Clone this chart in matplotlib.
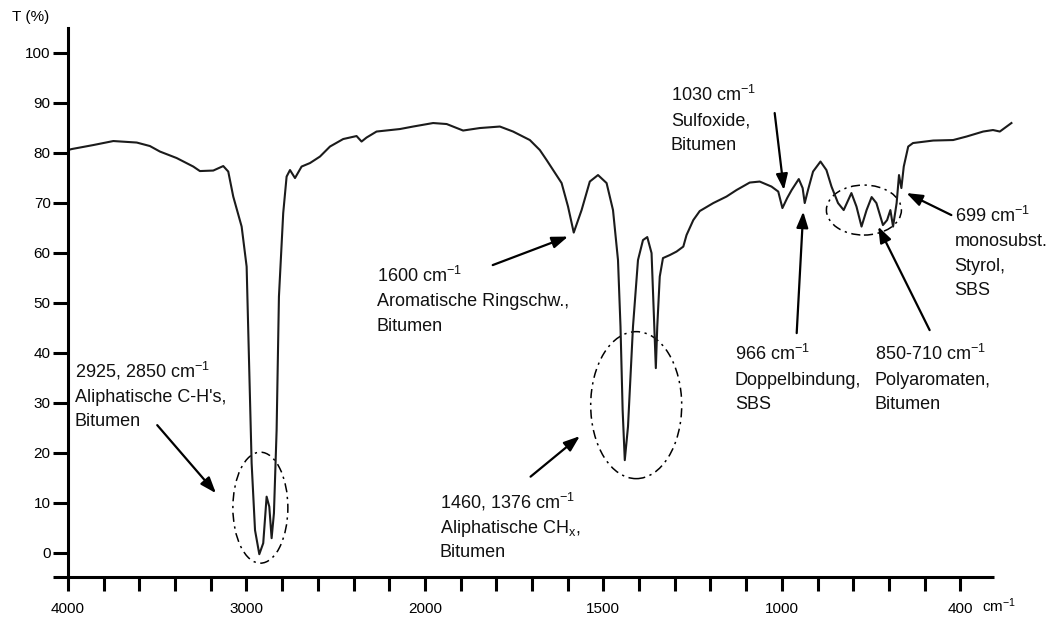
import matplotlib
matplotlib.use("Agg")
import matplotlib.pyplot as plt
import numpy as np
from matplotlib.patches import Ellipse
from matplotlib.transforms import ScaledTranslation

plt.rcParams['font.family'] = ['Liberation Sans', 'DejaVu Sans']
plt.rcParams['mathtext.fontset'] = 'custom'
plt.rcParams['mathtext.rm'] = 'Liberation Sans'
plt.rcParams['mathtext.default'] = 'regular'

# IR-Spektrum (Wellenzahl in cm-1, Transmission in %)
wavenumber = [4000, 3979, 3858, 3746, 3615, 3541, 3485, 3391, 3298, 3261, 3186,
              3130, 3102, 3074, 3027, 2999, 2990, 2971, 2952, 2928, 2906, 2887,
              2872, 2859, 2846, 2831, 2818, 2794, 2775, 2756, 2728, 2691, 2644,
              2588, 2532, 2458, 2383, 2355, 2327, 2271, 2140, 2066, 1977, 1939,
              1893, 1846, 1790, 1753, 1706, 1678, 1659, 1617, 1599, 1583, 1561,
              1538, 1515, 1491, 1473, 1459, 1452, 1446, 1440, 1431, 1417, 1403,
              1389, 1377, 1365, 1359, 1353, 1349, 1342, 1333, 1314, 1295, 1276,
              1267, 1248, 1230, 1192, 1155, 1127, 1090, 1062, 1029, 1010, 998,
              982, 967, 943, 930, 923, 912, 895, 870, 850, 833, 811, 792, 766,
              749, 732, 715, 698, 682, 660, 646, 635, 626, 614, 606, 598, 590,
              575, 559, 491, 424, 379, 323, 290, 267, 228]
transmission = [80.5, 80.7, 81.5, 82.3, 82.0, 81.3, 80.2, 78.9, 77.2, 76.3, 76.4,
                77.3, 76.2, 71.2, 65.2, 57.2, 44.5, 17.9, 4.5, -0.3, 1.9, 11.2,
                9.2, 2.9, 7.9, 24.5, 51.2, 67.9, 75.2, 76.5, 74.9, 77.2, 77.9,
                79.2, 81.2, 82.7, 83.3, 82.2, 83.0, 84.2, 84.7, 85.2, 85.9, 85.7,
                84.4, 84.9, 85.2, 84.2, 82.5, 80.5, 78.5, 73.9, 69.2, 64.0, 68.5,
                74.2, 75.5, 73.9, 68.5, 58.5, 45.2, 28.5, 18.5, 25.2, 45.2, 58.5,
                62.5, 63.1, 59.9, 48.5, 36.9, 45.2, 55.2, 58.9, 59.5, 60.2, 61.2,
                63.5, 66.5, 68.3, 69.9, 71.2, 72.5, 74.0, 74.2, 73.2, 72.2, 68.9,
                70.9, 72.5, 74.7, 72.9, 69.9, 72.5, 76.2, 78.2, 76.5, 73.2, 69.9, 68.5, 71.9,
                69.2, 65.2, 68.5, 71.1, 69.9, 65.5, 66.5, 68.5, 65.2, 69.9, 75.5, 72.9, 77.2,
                81.2, 81.9, 82.4, 82.5, 83.2, 84.2, 84.5, 84.2, 85.9]

# Achse: 4000-2000 in 200er, 2000-1000 in 100er, 1000-400 in 120er Schritten
wn_knots = np.array([5000, 4000, 2000, 1000, 400, 0])
pos_knots = np.array([5, 0, -10, -20, -25, -25 - 400 / 120])
tick_wn = list(range(4000, 2000, -200)) + list(range(2000, 1000, -100)) + [1000, 880, 760, 640, 520, 400]
tick_labels = {4000: '4000', 3000: '3000', 2000: '2000', 1500: '1500', 1000: '1000', 400: '400'}
y_ticks = list(range(0, 101, 10))
x_lim = (4000, 216)
y_lim = (-4.86, 104.9)
axis_span = (4084, 286)   # Länge der x-Achsenlinie


def fwd(w):
    # steigend in w, Achse wird danach umgedreht
    return np.interp(np.asarray(w, float), wn_knots[::-1], pos_knots[::-1])


def inv(p):
    return np.interp(np.asarray(p, float), pos_knots[::-1], wn_knots[::-1])


# Markierungen: (Text-Zeilen, Text links/Grundlinie, Pfeil von, Pfeil nach)
notes = [
    (['2925, 2850 cm$^{-1}$', "Aliphatische C-H's,", 'Bitumen'], (3961, 35.1), (3500, 25.5), (3171, 11.9)),
    (['1600 cm$^{-1}$', 'Aromatische Ringschw.,', 'Bitumen'], (2269, 54.2), (1810, 57.5), (1599, 63.2)),
    (['1460, 1376 cm$^{-1}$', 'Aliphatische CH$_x$,', 'Bitumen'], (1958, 8.9), (1704, 15.2), (1566, 23.3)),
    (['1030 cm$^{-1}$', 'Sulfoxide,', 'Bitumen'], (1311, 90.4), (1020, 87.9), (993, 72.5)),
    (['966 cm$^{-1}$', 'Doppelbindung,', 'SBS'], (1132, 38.5), (950, 43.9), (928, 68.2)),
    (['850-710 cm$^{-1}$', 'Polyaromaten,', 'Bitumen'], (687, 38.5), (503, 44.5), (676, 65.2)),
    (['699 cm$^{-1}$', 'monosubst.', 'Styrol,', 'SBS'], (419, 66.2), (430, 67.5), (581, 71.9)),
]
# Ellipsen: Mitte (cm-1, %), Breite/Höhe in Zoll
rings = [((2922, 9.0), 0.55, 1.11), ((1408, 29.5), 0.91, 1.47), ((724, 68.5), 0.75, 0.50)]

fig = plt.figure(figsize=(10.57, 6.19), dpi=100)
ax = fig.add_axes([68 / 1057, 42 / 619, (1015 - 68) / 1057, (577 - 28) / 619])
ax.set_xscale('function', functions=(fwd, inv))

ax.plot(wavenumber, transmission, color='#1b1b1b', lw=1.5, solid_joinstyle='round')

# Achsenlinien selbst zeichnen, x-Achse ragt links über die y-Achse hinaus
for s in ('top', 'right', 'bottom'):
    ax.spines[s].set_visible(False)
ax.spines['left'].set_linewidth(2.2)
ax.plot(axis_span, [y_lim[0]] * 2, color='black', lw=2.2, clip_on=False,
        solid_capstyle='butt', zorder=3)

ax.set_xticks(tick_wn)
ax.set_xticklabels([tick_labels.get(t, '') for t in tick_wn])
ax.set_yticks(y_ticks)
ax.tick_params(axis='x', direction='out', length=10, width=2.2, pad=8, labelsize=11)
ax.tick_params(axis='y', direction='out', length=10.5, width=2.2, pad=2, labelsize=11)
ax.minorticks_off()
ax.set_xlim(*x_lim)
ax.set_ylim(*y_lim)

fig.text(12 / 1057, 1 - 17 / 619, 'T (%)', fontsize=11, va='center', ha='left')
fig.text(982 / 1057, 1 - 612 / 619, 'cm$^{-1}$', fontsize=11, va='baseline', ha='left')

for lines, (tx, ty), tail, head in notes:
    for i, line in enumerate(lines):
        ax.text(tx, ty - 4.9 * i, line, fontsize=13, va='baseline', ha='left', color='#111111')
    ax.annotate('', xy=head, xytext=tail,
                arrowprops=dict(arrowstyle='-|>,head_length=0.6,head_width=0.22',
                                color='black', lw=1.6, mutation_scale=16, shrinkA=0, shrinkB=0))

for (cx, cy), w, h in rings:
    tr = fig.dpi_scale_trans + ScaledTranslation(cx, cy, ax.transData)
    ax.add_patch(Ellipse((0, 0), w, h, transform=tr, fill=False, color='black',
                         lw=1.1, linestyle=(0, (6, 3, 1.5, 3))))

fig.savefig('out.png', dpi=100)
